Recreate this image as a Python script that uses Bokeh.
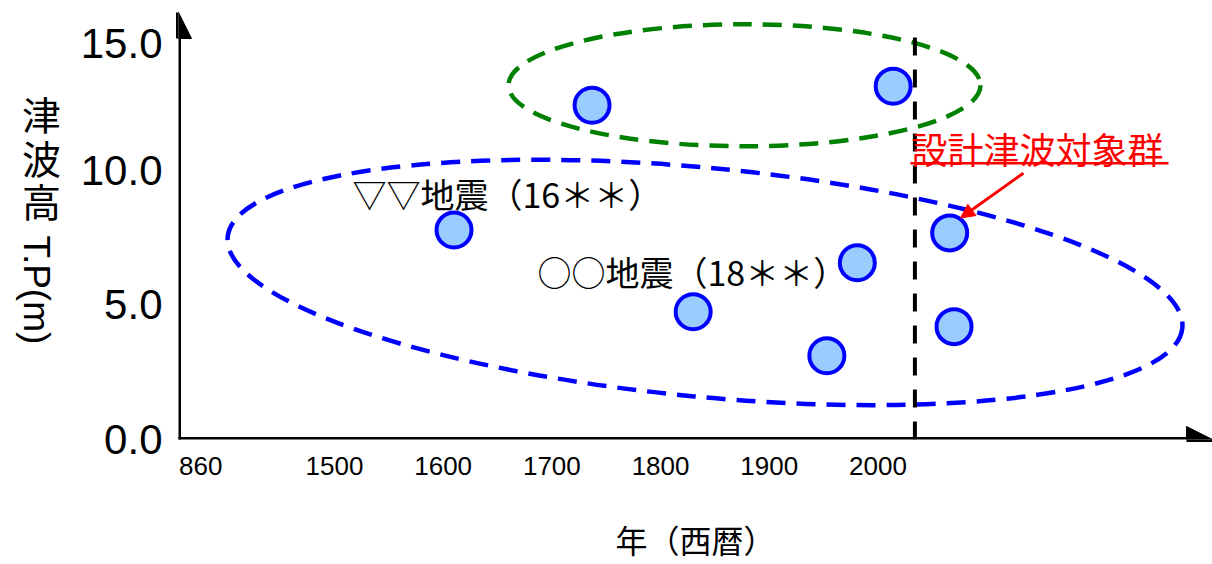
import math
from bokeh.plotting import figure
from bokeh.layouts import row
from bokeh.models import Range1d, FixedTicker, Label, Arrow, NormalHead
from bokeh.core.properties import value
from bokeh.embed import file_html
from bokeh.resources import INLINE

# ---------------- data ----------------
years = [1610, 1737, 2014, 1830, 1981, 1953, 2066, 2070]
heights = [7.78, 12.41, 13.11, 4.74, 6.56, 3.11, 7.67, 4.19]

x_tick_values = [1377, 1500, 1600, 1700, 1800, 1900, 2000]
x_tick_labels = ["860", "1500", "1600", "1700", "1800", "1900", "2000"]
y_tick_values = [0, 5, 10, 14.7]
y_tick_labels = ["0.0", "5.0", "10.0", "15.0"]

design_year = 2034          # dashed vertical line
design_line_top = 15.1

# grouping ellipses (centre year, centre height)
group_x = [1840.9, 1877.2]
group_y = [5.83, 13.15]
group_colors = ["#0000ff", "#008000"]

eq_labels = ["▽▽地震（16＊＊）", "○○地震（18＊＊）"]
target_label = "設計津波対象群"
x_title = "年（西暦）"
y_title_chars = ["津", "波", "高"]
y_title_rest = "T.P(m)"

# ---------------- layout helpers ----------------
W, H = 1212, 564
WL = 72                      # width of the left title strip
PX_LEFT = 178                # page x of frame left
PY_BOTTOM = 440              # page y of frame bottom
K = 1.087                    # px per year
KY = 27.0                    # px per metre
X0 = 1750 - (605.7 - PX_LEFT) / K
X1 = 1750 + (W - 605.7) / K


def dx(px):
    return X0 + (px - PX_LEFT) / K


def dy(py):
    return (PY_BOTTOM - py) / KY


# ---------------- left strip: vertical y title ----------------
left = figure(width=WL, height=H, output_backend="svg", toolbar_location=None,
              x_range=Range1d(0, WL), y_range=Range1d(PY_BOTTOM, 0),
              x_axis_location=None, y_axis_location=None,
              min_border_left=0, min_border_right=0, min_border_top=0,
              min_border_bottom=H - PY_BOTTOM)
left.outline_line_color = None
left.grid.visible = False
left.text(x=[41, 41, 41], y=[113, 157, 200], text=y_title_chars,
          text_font=value("Noto Sans CJK JP"), text_font_size="39px",
          text_align="center", text_baseline="middle", text_color="black")
left.text(x=[36], y=[290], text=[y_title_rest], angle=-math.pi / 2,
          text_font=value("Liberation Sans"), text_font_size="37px",
          text_align="center", text_baseline="middle", text_color="black")

# ---------------- main chart ----------------
p = figure(width=W - WL, height=H, output_backend="svg", toolbar_location=None,
           x_range=Range1d(X0, X1), y_range=Range1d(0, PY_BOTTOM / KY),
           min_border_left=PX_LEFT - WL, min_border_right=0, min_border_top=0,
           min_border_bottom=H - PY_BOTTOM)
p.outline_line_color = None
p.grid.visible = False

for ax, vals, labs, fs, so in ((p.xaxis, x_tick_values, x_tick_labels, "26px", 17),
                               (p.yaxis, y_tick_values, y_tick_labels, "42px", 16)):
    ax.ticker = FixedTicker(ticks=vals)
    ax.major_label_overrides = {v: l for v, l in zip(vals, labs)}
    ax.axis_line_color = None
    ax.major_tick_line_color = None
    ax.minor_tick_line_color = None
    ax.major_tick_out = 0
    ax.major_tick_in = 0
    ax.minor_tick_out = 0
    ax.minor_tick_in = 0
    ax.major_label_text_font = "Liberation Sans"
    ax.major_label_text_font_size = fs
    ax.major_label_text_color = "black"
    ax.major_label_standoff = so

p.xaxis.axis_label = x_title
p.xaxis.axis_label_text_font = "Noto Sans CJK JP"
p.xaxis.axis_label_text_font_size = "32px"
p.xaxis.axis_label_text_font_style = "normal"
p.xaxis.axis_label_text_color = "black"
p.xaxis.axis_label_standoff = 38

# points
p.scatter(years, heights, size=35, fill_color="#99ccff", line_color="#0000ff",
          line_width=4)

# grouping ellipses
p.ellipse(x=group_x, y=group_y, width=[959, 472], height=[229, 122],
          angle=[-0.095, 0.0], width_units="screen", height_units="screen",
          fill_color=None, line_color=group_colors, line_width=4.5,
          line_dash="19 11")

# design dashed line
p.segment(x0=[design_year], y0=[0], x1=[design_year], y1=[design_line_top],
          line_color="black", line_width=4, line_dash="18 14")

# axes arrows
p.add_layout(Arrow(end=NormalHead(size=26, fill_color="black", line_color="black"),
                   x_start=dx(175.5), y_start=0, x_end=X1, y_end=0,
                   line_color="black", line_width=5))
p.add_layout(Arrow(end=NormalHead(size=26, fill_color="black", line_color="black"),
                   x_start=X0, y_start=dy(442.5), x_end=X0, y_end=dy(12),
                   line_color="black", line_width=5))

# earthquake labels
for txt, (px, py) in zip(eq_labels, [(352, 193), (537, 272)]):
    p.add_layout(Label(x=dx(px), y=dy(py), text=txt, text_font="Noto Sans CJK JP",
                       text_font_size="34px", text_align="left",
                       text_baseline="middle", text_color="black"))

# red target label + underline + arrow
p.add_layout(Label(x=dx(911), y=dy(148), text=target_label, text_font="Noto Sans CJK JP",
                   text_font_size="36px", text_align="left", text_baseline="middle",
                   text_color="#ff0000"))
p.segment(x0=[dx(910)], y0=[dy(163)], x1=[dx(1168)], y1=[dy(163)],
          line_color="#ff0000", line_width=2.5)
p.add_layout(Arrow(end=NormalHead(size=14, fill_color="#ff0000", line_color="#ff0000"),
                   x_start=dx(1023), y_start=dy(173), x_end=dx(960), y_end=dy(218),
                   line_color="#ff0000", line_width=3))

layout = row(left, p, spacing=0)
open("out.html", "w").write(file_html(layout, INLINE))
